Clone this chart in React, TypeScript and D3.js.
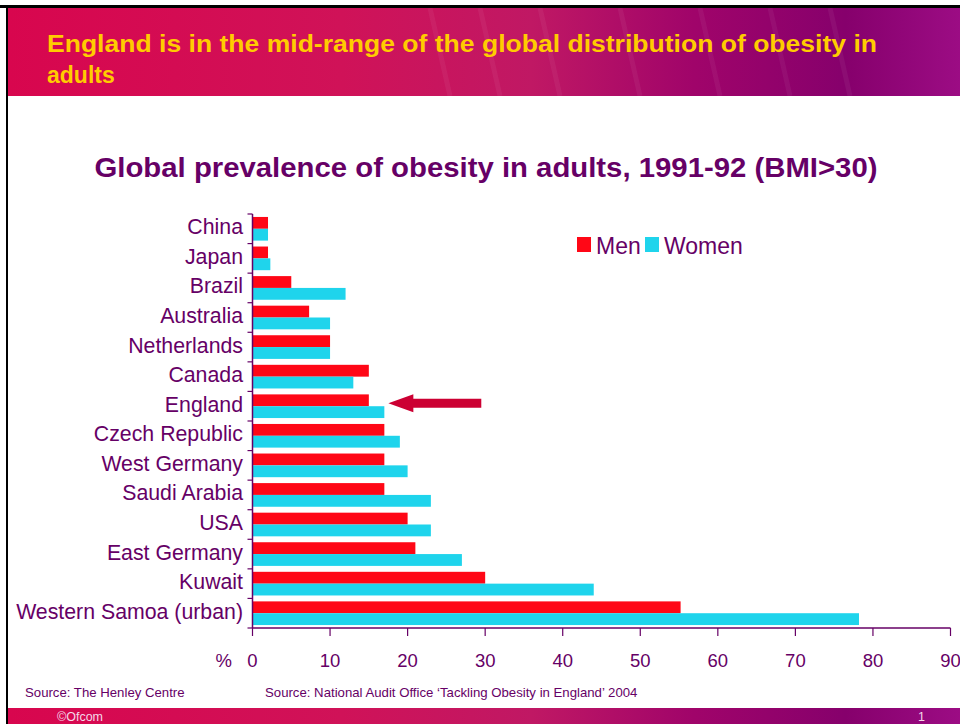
import React from "react";
import * as d3 from "d3";

const categories = [
  "China", "Japan", "Brazil", "Australia", "Netherlands", "Canada", "England",
  "Czech Republic", "West Germany", "Saudi Arabia", "USA", "East Germany", "Kuwait",
  "Western Samoa (urban)",
];
const menValues = [2, 2, 5, 7.3, 10, 15, 15, 17, 17, 17, 20, 21, 30, 55.2];
const womenValues = [2, 2.3, 12, 10, 10, 13, 17, 19, 20, 23, 23, 27, 44, 78.2];
const seriesNames = ["Men", "Women"];
const seriesColors = ["#ff0716", "#1fd4ec"];
const xTicks = [0, 10, 20, 30, 40, 50, 60, 70, 80, 90];

const W = 960;
const H = 724;
const PURPLE = "#660066";
const FONT = "'Liberation Sans', Arial, sans-serif";

export default function App() {
  const x = d3.scaleLinear().domain([0, 90]).range([252.5, 950.5]);
  const y = d3.scaleBand<string>().domain(categories).range([214, 628]).paddingInner(0.2).paddingOuter(0.1);
  const sub = d3.scaleBand<string>().domain(seriesNames).range([0, y.bandwidth()]);
  const step = y.step();
  const boundaries = d3.range(categories.length + 1).map((i) => 214 + i * step);
  const englandY = (y("England") as number) + y.bandwidth() / 2 - 3;

  return (
    <svg width={W} height={H} style={{ position: "absolute", left: 0, top: 0, background: "#fff" }}>
      <defs>
        <linearGradient id="hdr" x1="0" x2="1" y1="0" y2="0">
          <stop offset="0%" stopColor="#d8064e" />
          <stop offset="35%" stopColor="#d01258" />
          <stop offset="55%" stopColor="#c01864" />
          <stop offset="72%" stopColor="#a0046a" />
          <stop offset="88%" stopColor="#86006c" />
          <stop offset="100%" stopColor="#9c0c84" />
        </linearGradient>
      </defs>
      <rect x={0} y={0} width={W} height={H} fill="#fff" />
      {/* header band */}
      <rect x={8} y={8} width={W - 8} height={88} fill="url(#hdr)" />
      {[430, 480, 540, 620, 700, 770, 830].map((px, i) => (
        <line key={i} x1={px} x2={px + 20} y1={8} y2={96} stroke="#ffffff" strokeOpacity={0.05} strokeWidth={5} />
      ))}
      {/* frame */}
      <rect x={0} y={5} width={W} height={3} fill="#000" />
      <rect x={6} y={5} width={2} height={H - 5} fill="#000" />
      <text x={47} y={52} fill="#ffcc00" fontFamily={FONT} fontWeight="bold" fontSize={23} textLength={830} lengthAdjust="spacingAndGlyphs">
        England is in the mid-range of the global distribution of obesity in
      </text>
      <text x={47} y={83} fill="#ffcc00" fontFamily={FONT} fontWeight="bold" fontSize={23}>
        adults
      </text>

      {/* chart title */}
      <text x={486} y={177} textAnchor="middle" fill={PURPLE} fontFamily={FONT} fontWeight="bold" fontSize={27} textLength={783} lengthAdjust="spacingAndGlyphs">
        Global prevalence of obesity in adults, 1991-92 (BMI&gt;30)
      </text>

      {/* bars */}
      {categories.map((c, i) => (
        <g key={c}>
          <rect x={x(0)} y={(y(c) as number) + (sub("Men") as number)} width={x(menValues[i]) - x(0)} height={sub.bandwidth()} fill={seriesColors[0]} />
          <rect x={x(0)} y={(y(c) as number) + (sub("Women") as number)} width={x(womenValues[i]) - x(0)} height={sub.bandwidth()} fill={seriesColors[1]} />
          <text x={243} y={(y(c) as number) + y.bandwidth() / 2 - 2} dy="0.35em" textAnchor="end" fill={PURPLE} fontFamily={FONT} fontSize={21.3}>
            {c}
          </text>
        </g>
      ))}

      {/* y axis */}
      <line x1={x(0)} x2={x(0)} y1={214} y2={628} stroke={PURPLE} strokeWidth={1.5} />
      {boundaries.map((b, i) => (
        <line key={i} x1={x(0) - 5} x2={x(0)} y1={b} y2={b} stroke={PURPLE} strokeWidth={1.2} />
      ))}

      {/* x axis */}
      <line x1={x(0)} x2={x(90)} y1={628} y2={628} stroke={PURPLE} strokeWidth={1.5} />
      {xTicks.map((t) => (
        <g key={t}>
          <line x1={x(t)} x2={x(t)} y1={628} y2={636} stroke={PURPLE} strokeWidth={1.2} />
          <text x={x(t)} y={667} textAnchor="middle" fill={PURPLE} fontFamily={FONT} fontSize={18.5}>
            {t}
          </text>
        </g>
      ))}
      <text x={232} y={667} textAnchor="end" fill={PURPLE} fontFamily={FONT} fontSize={18.5}>%</text>

      {/* legend */}
      {seriesNames.map((s, i) => {
        const lx = i === 0 ? 577 : 645;
        return (
          <g key={s}>
            <rect x={lx} y={237} width={14} height={15} fill={seriesColors[i]} />
            <text x={lx + 19} y={254} fill={PURPLE} fontFamily={FONT} fontSize={23}>{s}</text>
          </g>
        );
      })}

      {/* arrow */}
      <path
        d={`M${x(17) + 4},${englandY} L${x(17) + 29},${englandY - 9} L${x(17) + 29},${englandY - 4.5} L${x(29.5)},${englandY - 4.5} L${x(29.5)},${englandY + 4.5} L${x(17) + 29},${englandY + 4.5} L${x(17) + 29},${englandY + 9} Z`}
        fill="#cc0033"
      />

      {/* sources */}
      <text x={25} y={697} fill={PURPLE} fontFamily={FONT} fontSize={13.2}>Source: The Henley Centre</text>
      <text x={265} y={697} fill={PURPLE} fontFamily={FONT} fontSize={13.2}>Source: National Audit Office ‘Tackling Obesity in England’ 2004</text>

      {/* footer */}
      <rect x={8} y={708} width={W - 8} height={16} fill="url(#hdr)" />
      <text x={57} y={721} fill="#f4d8e8" fontFamily={FONT} fontSize={12.5}>©Ofcom</text>
      <text x={918} y={721} fill="#f4d8e8" fontFamily={FONT} fontSize={12.5}>1</text>
    </svg>
  );
}
